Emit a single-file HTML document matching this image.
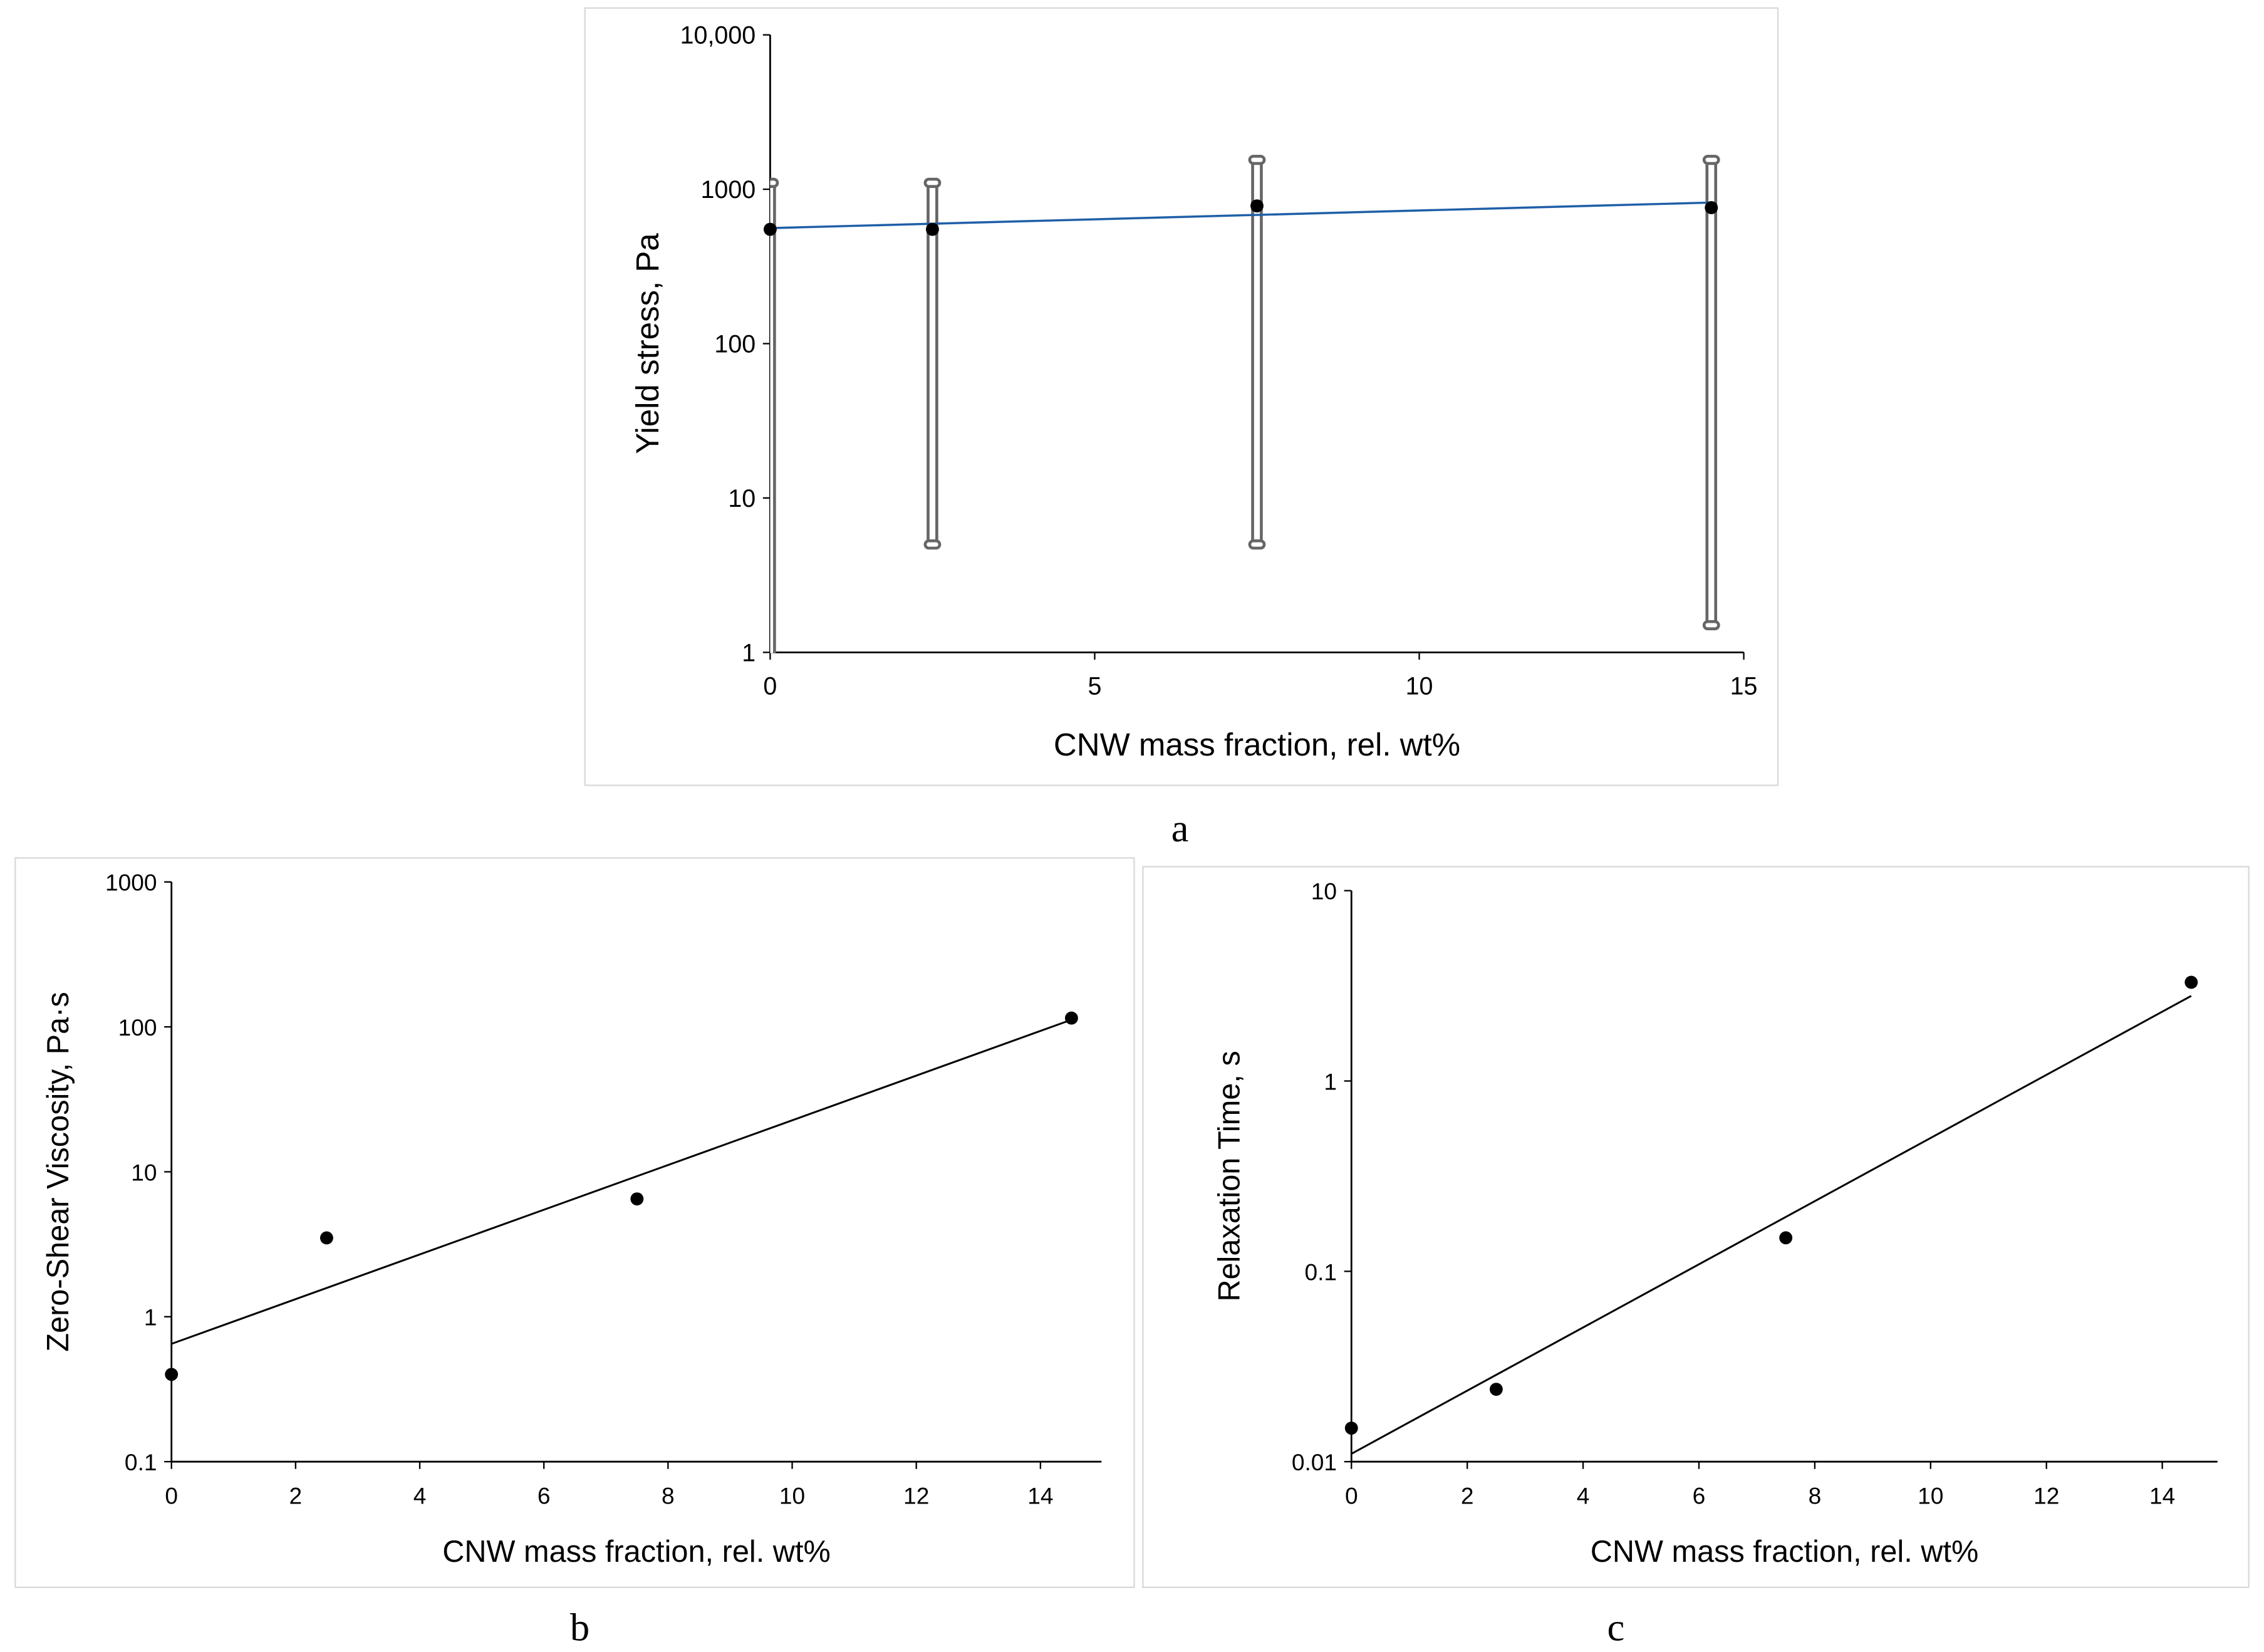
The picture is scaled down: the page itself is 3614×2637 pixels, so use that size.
<!DOCTYPE html>
<html><head><meta charset="utf-8">
<style>
html,body{margin:0;padding:0;background:#fff;}
svg{display:block;font-family:"Liberation Sans",sans-serif;}
</style></head>
<body>
<svg id="fig" width="3614" height="2637" viewBox="0 0 1558 1137" preserveAspectRatio="none" xmlns="http://www.w3.org/2000/svg">
<defs><clipPath id="clipA"><rect x="530" y="0" width="700" height="449.5"/></clipPath></defs>
<rect x="0" y="0" width="1558" height="1137" fill="#fff"/>
<rect x="402.5" y="5.5" width="821" height="535" fill="none" stroke="#d9d9d9" stroke-width="1"/>
<rect x="10.5" y="590.5" width="770" height="502" fill="none" stroke="#d9d9d9" stroke-width="1"/>
<rect x="786.5" y="596.5" width="761" height="496" fill="none" stroke="#d9d9d9" stroke-width="1"/>
<text x="812" y="579" font-family="Liberation Serif,serif" font-size="27" text-anchor="middle">a</text>
<text x="399" y="1129" font-family="Liberation Serif,serif" font-size="27" text-anchor="middle">b</text>
<text x="1112" y="1129" font-family="Liberation Serif,serif" font-size="27" text-anchor="middle">c</text>
<g id="ga"></g><g id="gb"></g><g id="gc"></g>
</svg>
<script>
// Panel a data
const aX = [0, 2.5, 7.5, 14.5];
const aY = [550, 550, 780, 760];
const aErrHigh = [1100, 1100, 1550, 1550];
const aErrLow = [0.8, 5, 5, 1.5];
const aTrend = [560, 820];
const aXTicks = [0, 5, 10, 15];
const aYTicks = [1, 10, 100, 1000, 10000];
const aYTickLabels = ["1", "10", "100", "1000", "10,000"];
// Panel b data
const bX = [0, 2.5, 7.5, 14.5];
const bY = [0.4, 3.5, 6.5, 115];
const bTrend = [0.65, 112];
const bXTicks = [0, 2, 4, 6, 8, 10, 12, 14];
const bYTicks = [0.1, 1, 10, 100, 1000];
const bYTickLabels = ["0.1", "1", "10", "100", "1000"];
// Panel c data
const cX = [0, 2.5, 7.5, 14.5];
const cY = [0.015, 0.024, 0.15, 3.3];
const cTrend = [0.011, 2.8];
const cXTicks = [0, 2, 4, 6, 8, 10, 12, 14];
const cYTicks = [0.01, 0.1, 1, 10];
const cYTickLabels = ["0.01", "0.1", "1", "10"];

const NS = "http://www.w3.org/2000/svg";
function mk(parent, tag, attrs, text) {
  const e = document.createElementNS(NS, tag);
  for (const k in attrs) e.setAttribute(k, attrs[k]);
  if (text !== undefined) e.textContent = text;
  parent.appendChild(e);
  return e;
}
function logScale(v0, v1, p0, p1) {
  const l0 = Math.log10(v0), l1 = Math.log10(v1);
  return v => p0 + (Math.log10(v) - l0) / (l1 - l0) * (p1 - p0);
}
function linScale(v0, v1, p0, p1) { return v => p0 + (v - v0) / (v1 - v0) * (p1 - p0); }

function drawAxes(g, o) {
  const {x, y, xTicks, yTicks, yLabels, x0, x1, y0, y1, xTitle, yTitle, xTitleY, yTitleX, tickFont, titleFont, name} = o;
  let e = mk(g, "line", {x1: x0, y1: y0, x2: x0, y2: y1, stroke: "#000", "stroke-width": 1.2});
  
  
  e = mk(g, "line", {x1: x0, y1: y0, x2: x1, y2: y0, stroke: "#000", "stroke-width": 1.2});
  
  
  yTicks.forEach((t, i) => {
    const py = y(t);
    mk(g, "line", {x1: x0 - 5, y1: py, x2: x0, y2: py, stroke: "#000", "stroke-width": 1});
    const tx = mk(g, "text", {x: x0 - 10, y: py + 6, "font-size": tickFont, "text-anchor": "end"}, yLabels[i]);
    
    
  });
  xTicks.forEach(t => {
    const px = x(t);
    mk(g, "line", {x1: px, y1: y0, x2: px, y2: y0 + 5, stroke: "#000", "stroke-width": 1});
    const tx = mk(g, "text", {x: px, y: y0 + 29, "font-size": tickFont, "text-anchor": "middle"}, String(t));
    
    
  });
  e = mk(g, "text", {x: (x0 + x1) / 2, y: xTitleY, "font-size": titleFont, "text-anchor": "middle"}, xTitle);
  
  
  const cy = (y0 + y1) / 2;
  e = mk(g, "text", {x: yTitleX, y: cy, "font-size": titleFont, "text-anchor": "middle", transform: `rotate(-90 ${yTitleX} ${cy})`}, yTitle);
  
  
}

// Panel a
(function () {
  const g = document.getElementById("ga");
  const x = linScale(0, 15, 530, 1200), y = logScale(1, 10000, 449, 24);
  drawAxes(g, {x, y, xTicks: aXTicks, yTicks: aYTicks, yLabels: aYTickLabels, x0: 530, x1: 1200, y0: 449, y1: 24,
    xTitle: "CNW mass fraction, rel. wt%", yTitle: "Yield stress, Pa", xTitleY: 520, yTitleX: 453, tickFont: 17, titleFont: 22, name: "panel-a"});
  aX.forEach((v, i) => {
    const px = x(v), top = y(aErrHigh[i]), bot = Math.min(y(aErrLow[i]), 452);
    const eb = mk(g, "g", {"clip-path": "url(#clipA)", stroke: "#666", "stroke-width": 2, fill: "#fff"});
    
    
    mk(eb, "rect", {x: px - 3, y: top, width: 6, height: bot - top});
    mk(eb, "rect", {x: px - 5, y: top - 2.5, width: 10, height: 5, rx: 2.5});
    if (y(aErrLow[i]) < 449) mk(eb, "rect", {x: px - 5, y: bot - 2.5, width: 10, height: 5, rx: 2.5});
  });
  const t = mk(g, "line", {x1: x(0), y1: y(aTrend[0]), x2: x(14.5), y2: y(aTrend[1]), stroke: "#1f5fa8", "stroke-width": 1.5});
  
  
  aX.forEach((v, i) => {
    const c = mk(g, "circle", {cx: x(v), cy: y(aY[i]), r: 4.5, fill: "#000"});
    
    
  });
})();

// Panel b
(function () {
  const g = document.getElementById("gb");
  const x = linScale(0, 14, 118, 716), y = logScale(0.1, 1000, 1006, 607);
  drawAxes(g, {x, y, xTicks: bXTicks, yTicks: bYTicks, yLabels: bYTickLabels, x0: 118, x1: 758, y0: 1006, y1: 607,
    xTitle: "CNW mass fraction, rel. wt%", yTitle: "Zero-Shear Viscosity, Pa·s", xTitleY: 1075, yTitleX: 47, tickFont: 16, titleFont: 21, name: "panel-b"});
  const t = mk(g, "line", {x1: x(0), y1: y(bTrend[0]), x2: x(14.5), y2: y(bTrend[1]), stroke: "#000", "stroke-width": 1.3});
  
  
  bX.forEach((v, i) => {
    const c = mk(g, "circle", {cx: x(v), cy: y(bY[i]), r: 4.5, fill: "#000"});
    
    
  });
})();

// Panel c
(function () {
  const g = document.getElementById("gc");
  const x = linScale(0, 14, 930, 1488), y = logScale(0.01, 10, 1006, 613);
  drawAxes(g, {x, y, xTicks: cXTicks, yTicks: cYTicks, yLabels: cYTickLabels, x0: 930, x1: 1526, y0: 1006, y1: 613,
    xTitle: "CNW mass fraction, rel. wt%", yTitle: "Relaxation Time, s", xTitleY: 1075, yTitleX: 853, tickFont: 16, titleFont: 21, name: "panel-c"});
  const t = mk(g, "line", {x1: x(0), y1: y(cTrend[0]), x2: x(14.5), y2: y(cTrend[1]), stroke: "#000", "stroke-width": 1.3});
  
  
  cX.forEach((v, i) => {
    const c = mk(g, "circle", {cx: x(v), cy: y(cY[i]), r: 4.5, fill: "#000"});
    
    
  });
})();
</script>
</body></html>
